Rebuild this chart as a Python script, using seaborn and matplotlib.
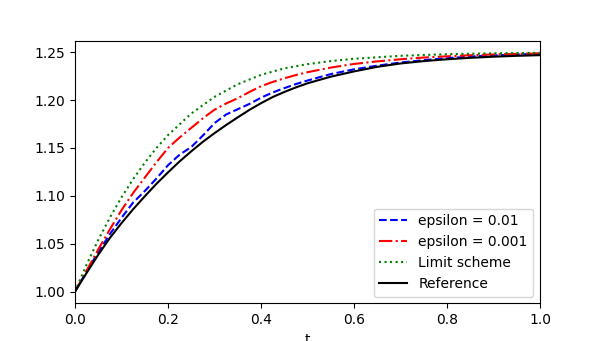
import numpy as np
import pandas as pd
import matplotlib
matplotlib.use("Agg")
import matplotlib.pyplot as plt
import seaborn as sns

# values
t_grid = [0.0, 0.025, 0.05, 0.075, 0.1, 0.125, 0.15, 0.175, 0.2, 0.225, 0.25, 0.275,
          0.3, 0.325, 0.35, 0.375, 0.4, 0.425, 0.45, 0.475, 0.5, 0.55, 0.6, 0.65, 0.7,
          0.75, 0.8, 0.85, 0.9, 0.95, 1.0]

u_eps1 = [1.000, 1.021, 1.041, 1.060, 1.077, 1.093, 1.105, 1.118, 1.132, 1.143, 1.151,
          1.163, 1.176, 1.185, 1.1905, 1.196, 1.2025, 1.208, 1.2125, 1.2168, 1.2205,
          1.2272, 1.2322, 1.236, 1.2393, 1.2418, 1.2438, 1.2455, 1.2467, 1.2477, 1.2485]

u_eps2 = [1.000, 1.022, 1.044, 1.065, 1.085, 1.103, 1.119, 1.135, 1.150, 1.161, 1.171,
          1.181, 1.190, 1.1965, 1.202, 1.2085, 1.2145, 1.219, 1.2228, 1.2262, 1.2292,
          1.234, 1.2378, 1.2405, 1.2427, 1.2445, 1.2458, 1.2469, 1.2477, 1.2483, 1.2488]

t_limit = [0.0, 0.025, 0.05, 0.075, 0.1, 0.125, 0.15, 0.175, 0.2, 0.25, 0.3, 0.35, 0.4,
           0.45, 0.5, 0.55, 0.6, 0.7, 0.8, 0.9, 1.0]
u_limit = [1.000, 1.0283, 1.0539, 1.0773, 1.0984, 1.1175, 1.1345, 1.1499, 1.1634, 1.186,
           1.2034, 1.2166, 1.2264, 1.2332, 1.2376, 1.2408, 1.2432, 1.2463, 1.248, 1.2489,
           1.2494]

u_ref = [1.000, 1.0195, 1.0385, 1.056, 1.0715, 1.086, 1.0995, 1.1125, 1.1245, 1.136,
         1.1465, 1.1565, 1.1655, 1.174, 1.182, 1.1898, 1.1968, 1.2032, 1.2085, 1.2133,
         1.2176, 1.2245, 1.2300, 1.2348, 1.2383, 1.2408, 1.2427, 1.2442, 1.2454, 1.2463,
         1.2470]

fig, ax = plt.subplots(figsize=(6, 3.41), dpi=100)

sns.lineplot(x=t_grid, y=u_eps1, ax=ax, color='b', linestyle='--', label='epsilon = 0.01')
sns.lineplot(x=t_grid, y=u_eps2, ax=ax, color='r', linestyle='-.', label='epsilon = 0.001')
sns.lineplot(x=t_limit, y=u_limit, ax=ax, color='g', linestyle=':', label='Limit scheme')
sns.lineplot(x=t_grid, y=u_ref, ax=ax, color='k', linestyle='-', label='Reference')

ax.set_xlim(0, 1)
ax.set_xlabel('t')
ax.legend(loc='lower right')

plt.savefig('out.png', dpi=100)
